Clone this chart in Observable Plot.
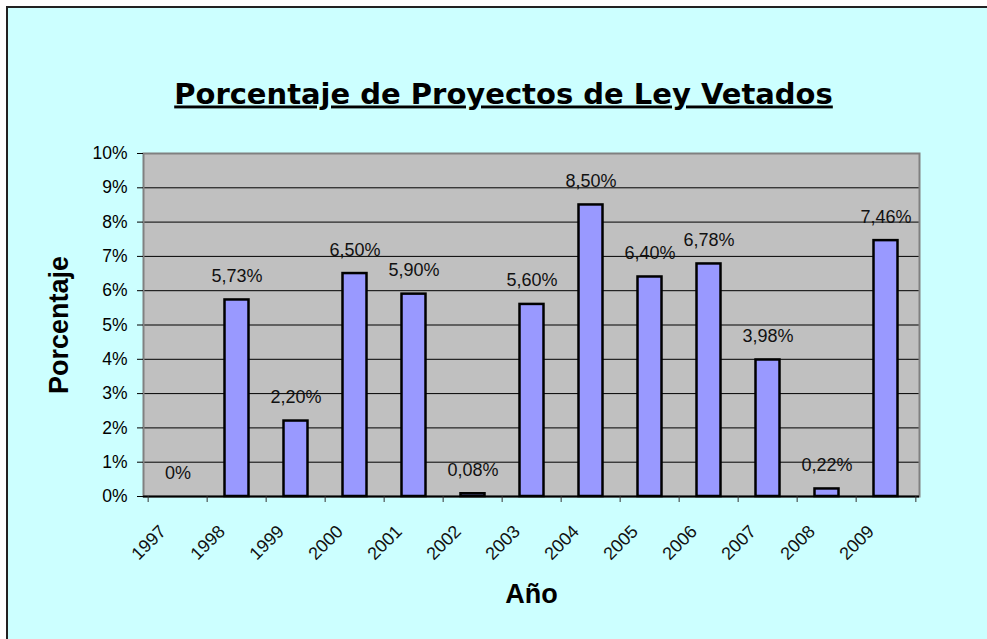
<!DOCTYPE html>
<html>
<head>
<meta charset="utf-8">
<script src="https://cdn.jsdelivr.net/npm/d3@7"></script>
<script src="https://cdn.jsdelivr.net/npm/@observablehq/plot@0.6"></script>
<style>
  html, body { margin: 0; padding: 0; background: #ffffff; }
  #chart { width: 987px; height: 639px; overflow: hidden; }
</style>
</head>
<body>
<div id="chart"></div>
<script>
const title = "Porcentaje de Proyectos de Ley Vetados";
const yLabel = "Porcentaje";
const xLabel = "Año";
const years = ["1997","1998","1999","2000","2001","2002","2003","2004","2005","2006","2007","2008","2009"];
const values = [0, 5.73, 2.20, 6.50, 5.90, 0.08, 5.60, 8.50, 6.40, 6.78, 3.98, 0.22, 7.46];
const valueLabels = ["0%","5,73%","2,20%","6,50%","5,90%","0,08%","5,60%","8,50%","6,40%","6,78%","3,98%","0,22%","7,46%"];
const yTicks = [0,1,2,3,4,5,6,7,8,9,10];
const gridTicks = [1,2,3,4,5,6,7,8,9];

const data = years.map((year, i) => ({year, value: values[i], label: valueLabels[i]}));

const W = 987, H = 639;
const mL = 143, mR = 68, mT = 153, mB = 143;
const bw = (W - mL - mR) / years.length;
const font = "'Liberation Sans', Arial, sans-serif";

const chart = Plot.plot({
  width: W,
  height: H,
  marginLeft: mL,
  marginRight: mR,
  marginTop: mT,
  marginBottom: mB,
  style: {background: "transparent", fontFamily: font, fontSize: "17px", color: "black"},
  x: {type: "band", domain: years, padding: 0, axis: null},
  y: {domain: [0, 10], axis: null},
  marks: [
    Plot.frame({fill: "#C0C0C0", stroke: null}),
    Plot.ruleY(gridTicks, {stroke: "#000000", strokeWidth: 1}),
    Plot.frame({stroke: "#808080", strokeWidth: 2, fill: null}),
    Plot.ruleY([0], {stroke: "#000000", strokeWidth: 2}),
    Plot.barY(data.filter(d => d.value > 0), {
      x: "year", y: "value", fill: "#9999FF", stroke: "#000000", strokeWidth: 2.5,
      insetLeft: 17.5, insetRight: 17.5
    }),
    Plot.text(data, {
      x: "year", y: "value", text: "label", lineAnchor: "bottom", dy: -18,
      fontSize: 18, fontFamily: font, fill: "#111"
    }),
    Plot.axisY(yTicks, {
      anchor: "left", tickSize: 6, tickPadding: 10, tickFormat: d => d + "%",
      fontSize: 17.5, fontFamily: font, label: null, stroke: "#000"
    }),
    Plot.axisX(years, {anchor: "bottom", tickSize: 6, dx: -bw / 2, text: null, label: null, stroke: "#333"}),
    Plot.axisX([years[years.length - 1]], {anchor: "bottom", tickSize: 6, dx: bw / 2, text: null, label: null, stroke: "#333"}),
    Plot.text(years, {
      x: d => d, frameAnchor: "bottom", rotate: -45, textAnchor: "end", lineAnchor: "middle",
      dy: 32, dx: -15, fontSize: 18, fontFamily: font, fill: "#111"
    }),
    Plot.text([yLabel], {
      frameAnchor: "left", rotate: -90, dx: -84, fontSize: 27, fontWeight: "bold",
      fontFamily: font, lineAnchor: "middle", textAnchor: "middle", fill: "#000"
    }),
    Plot.text([xLabel], {
      frameAnchor: "bottom", lineAnchor: "bottom", dy: 106, fontSize: 27, fontWeight: "bold",
      fontFamily: font, fill: "#000"
    }),
    Plot.text([title], {
      frameAnchor: "top", lineAnchor: "bottom", dy: -50, dx: -28, fontSize: 29, fontWeight: "bold",
      fontFamily: "'DejaVu Sans', Verdana, sans-serif", fill: "#000", className: "chart-title"
    })
  ]
});

const svg = d3.select(chart);
svg.insert("rect", ":first-child")
  .attr("x", 7).attr("y", 7).attr("width", W + 20).attr("height", H + 20)
  .attr("fill", "#CCFFFF").attr("stroke", "#222").attr("stroke-width", 2);
svg.selectAll(".chart-title text")
  .style("text-decoration", "underline")
  .style("text-decoration-thickness", "4px")
  .style("text-underline-offset", "4px");

document.getElementById("chart").appendChild(chart);
</script>
</body>
</html>
